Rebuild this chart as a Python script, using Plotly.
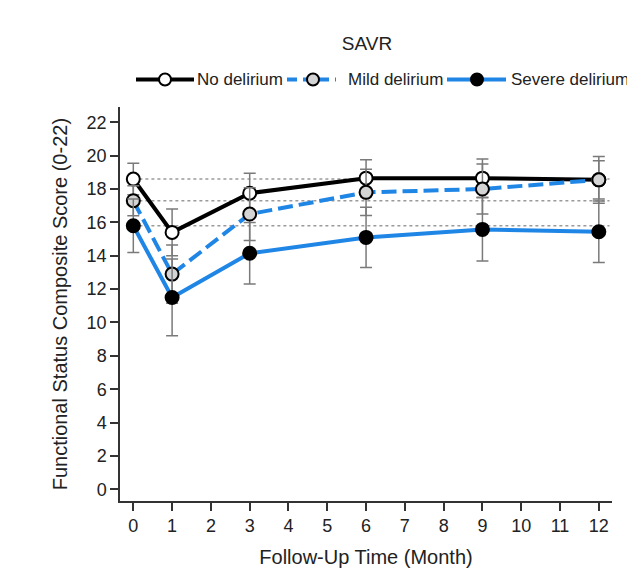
import plotly.graph_objects as go

months = [0, 1, 3, 6, 9, 12]
no_delirium = [18.6, 15.4, 17.75, 18.65, 18.65, 18.55]
no_delirium_err = [0.95, 1.4, 1.2, 1.1, 1.15, 1.4]
mild_delirium = [17.3, 12.9, 16.5, 17.8, 18.0, 18.55]
mild_delirium_err = [0.9, 1.74, 1.58, 1.38, 1.5, 1.15]
severe_delirium = [15.8, 11.5, 14.15, 15.1, 15.58, 15.44]
severe_delirium_err = [1.6, 2.3, 1.85, 1.8, 1.9, 1.84]

series_names = ["No delirium", "Mild delirium", "Severe delirium"]
y_ticks = list(range(0, 23, 2))
x_ticks = list(range(0, 13))

BLUE = "#1f86e6"
GRAY_ERR = "#7a7a7a"
FONT = "Liberation Sans, Arial, sans-serif"

W, H = 627, 577
ML, MR, MT, MB = 120, 15, 20, 72
plot_h = H - MT - MB
ydom_top = (505 - 108) / plot_h

fig = go.Figure()

styles = [
    dict(y=no_delirium, e=no_delirium_err, color="black", dash="solid", fill="white"),
    dict(y=mild_delirium, e=mild_delirium_err, color=BLUE, dash="15px,6px", fill="#d4d4d4"),
    dict(y=severe_delirium, e=severe_delirium_err, color=BLUE, dash="solid", fill="black"),
]

for name, s in zip(series_names, styles):
    fig.add_trace(go.Scatter(
        x=months, y=s["y"], name=name, mode="lines+markers",
        line=dict(color=s["color"], width=4, dash=s["dash"]),
        marker=dict(size=13, color=s["fill"], line=dict(color="black", width=2)),
        error_y=dict(type="data", array=s["e"], visible=True, color=GRAY_ERR,
                     thickness=1.5, width=6),
        showlegend=False, cliponaxis=False,
    ))

# baseline reference lines (dotted)
for s in styles:
    fig.add_shape(type="line", xref="paper", yref="y", x0=0.015, x1=0.995,
                  y0=s["y"][0], y1=s["y"][0],
                  line=dict(color="#9a9a9a", width=1.5, dash="dot"), layer="below")

# manual legend on a separate hidden axis pair measured in pixels (x: pixels, y: 577 - pixel)
leg_y = H - 80
leg_items = [
    dict(x0=136, x1=194, xm=165, xt=195),
    dict(x0=287, x1=336, xm=313, xt=346),
    dict(x0=447, x1=506, xm=477, xt=509),
]
for name, s, li in zip(series_names, styles, leg_items):
    fig.add_trace(go.Scatter(
        x=[li["x0"], li["x1"]], y=[leg_y, leg_y], mode="lines",
        line=dict(color=s["color"], width=4, dash=("10px,6px" if s["dash"] != "solid" else "solid")),
        xaxis="x2", yaxis="y2", showlegend=False, cliponaxis=False, hoverinfo="skip"))
    fig.add_trace(go.Scatter(
        x=[li["xm"]], y=[leg_y], mode="markers",
        marker=dict(size=12, color=s["fill"], line=dict(color="black", width=2)),
        xaxis="x2", yaxis="y2", showlegend=False, cliponaxis=False, hoverinfo="skip"))
    fig.add_annotation(x=li["xt"], y=leg_y, xref="x2", yref="y2", text=name,
                       showarrow=False, xanchor="left", yanchor="middle",
                       font=dict(family=FONT, size=17, color="#222"))

fig.update_layout(
    width=W, height=H,
    margin=dict(l=ML, r=MR, t=MT, b=MB, pad=0),
    paper_bgcolor="white", plot_bgcolor="rgba(0,0,0,0)",
    font=dict(family=FONT, color="#222"),
    title=dict(text="SAVR", x=367 / W, xanchor="center", y=1 - 43 / H, yanchor="middle",
               yref="container", font=dict(family=FONT, size=19, color="#222")),
    xaxis=dict(range=[-0.343, 12.34], tickvals=x_ticks, showgrid=False, zeroline=False,
               showline=True, linecolor="#333", linewidth=1.5, ticks="outside",
               ticklen=8, tickwidth=1.5, tickcolor="#333",
               tickfont=dict(family=FONT, size=18, color="#222"),
               title=dict(text="Follow-Up Time (Month)", standoff=15,
                          font=dict(family=FONT, size=20, color="#222"))),
    yaxis=dict(domain=[0, ydom_top], range=[-0.7, 22.9], tickvals=y_ticks, showgrid=False,
               zeroline=False, showline=True, linecolor="#333", linewidth=1.5,
               ticks="outside", ticklen=8, tickwidth=1.5, tickcolor="#333",
               tickfont=dict(family=FONT, size=18, color="#222"),
               title=dict(text="Functional Status Composite Score (0-22)", standoff=14,
                          font=dict(family=FONT, size=20, color="#222"))),
    xaxis2=dict(domain=[0, 1], range=[ML, W - MR], anchor="y2",
                visible=False, fixedrange=True),
    yaxis2=dict(domain=[0, 1], range=[MB, H - MT], anchor="x2",
                visible=False, fixedrange=True),
)

fig.write_html("out.html")
